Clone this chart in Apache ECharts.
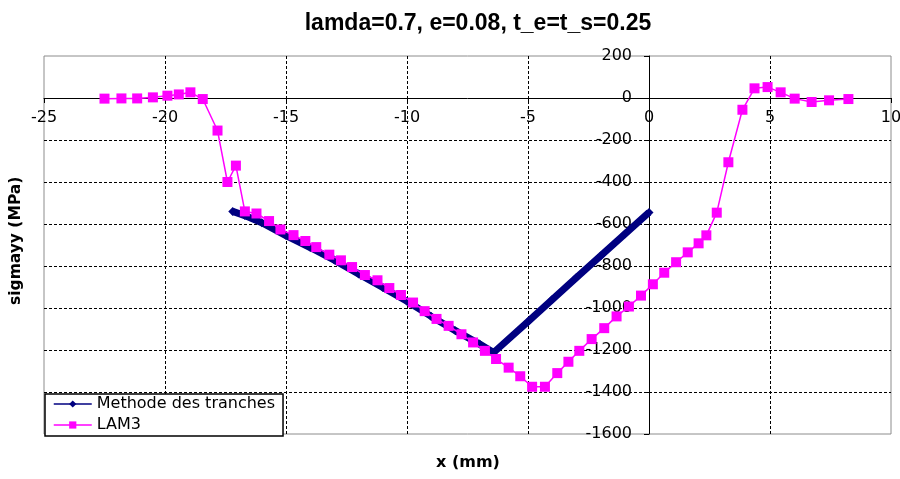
<!DOCTYPE html>
<html>
<head>
<meta charset="utf-8">
<script src="https://cdn.jsdelivr.net/npm/echarts@6/dist/echarts.min.js"></script>
<style>
  html, body { margin: 0; padding: 0; background: #fff; }
  #chart { width: 900px; height: 479px; }
</style>
</head>
<body>
<div id="chart"></div>
<script>
// Stress profile sigma_yy along x: slice method vs LAM3 finite-element result
const chartTitle = 'lamda=0.7, e=0.08, t_e=t_s=0.25';
const xAxisName = 'x (mm)';
const yAxisName = 'sigmayy (MPa)';
const seriesNames = ['Methode des tranches', 'LAM3'];

// Methode des tranches (mm, MPa)
const trancheX = [-17.2, -16.7, -16, -15, -14, -13, -12, -11, -10, -9, -8, -7, -6.42,
                  -5, -4, -3, -2, -1, 0];
const trancheY = [-540, -560, -594, -655, -712, -772, -838, -902, -968, -1040, -1108, -1172, -1212,
                  -1065, -960, -855, -752, -648, -545];

// LAM3 (mm, MPa)
const lamX = [-22.5, -21.8, -21.15, -20.5, -19.9, -19.43, -18.95, -18.44, -17.83, -17.42, -17.07,
              -16.7, -16.22, -15.7, -15.23, -14.69, -14.2, -13.75, -13.21, -12.73, -12.27, -11.74,
              -11.22, -10.73, -10.25, -9.75, -9.27, -8.78, -8.28, -7.75, -7.27, -6.78, -6.32,
              -5.8, -5.32, -4.83, -4.3, -3.79, -3.33, -2.88, -2.37, -1.85, -1.34, -0.83, -0.33,
              0.16, 0.63, 1.12, 1.6, 2.05, 2.37, 2.8, 3.28, 3.86, 4.36, 4.9, 5.44, 6.02, 6.72,
              7.44, 8.24];
const lamY = [-3, -2, -2, 3, 11, 17, 27, -5, -155, -400, -322,
              -540, -550, -586, -626, -653, -681, -710, -746, -773, -805, -843,
              -868, -905, -938, -974, -1015, -1052, -1085, -1125, -1164, -1204, -1243,
              -1284, -1325, -1375, -1375, -1310, -1256, -1204, -1148, -1096, -1040, -993, -941,
              -887, -832, -782, -735, -692, -654, -546, -306, -56, 46, 52, 27, -3, -19,
              -11, -5];

// Axis ranges
const xMin = -25, xMax = 10, xStep = 5;
const yMin = -1600, yMax = 200, yStep = 200;

// Plot box (sized so the origin falls on whole pixels)
const W = 900, H = 479;
const gridBox = { left: 44, right: 9, top: 56, bottom: 45 };
const plotW = W - gridBox.left - gridBox.right;
const plotH = H - gridBox.top - gridBox.bottom;

// Axes cross at the origin: shift each axis line from its edge to zero of the other axis
const xAxisShift = -((0 - yMin) / (yMax - yMin)) * plotH;
const yAxisShift = -((0 - xMin) / (xMax - xMin)) * plotW;

const pairs = (xs, ys) => xs.map((x, i) => [x, ys[i]]);

const tickFont = { fontFamily: 'DejaVu Sans', fontSize: 16, color: '#000',
                   formatter: v => String(v) };
const gridLine = { show: true, showMinLine: false, showMaxLine: false,
                   lineStyle: { color: '#000', type: [3, 2], width: 1 } };

const chart = echarts.init(document.getElementById('chart'), null, { renderer: 'canvas' });

chart.setOption({
  animation: false,
  backgroundColor: '#fff',
  title: {
    text: chartTitle,
    left: 473, top: 7, textAlign: 'center',
    textStyle: { fontFamily: 'Liberation Sans', fontWeight: 'bold', fontSize: 23, color: '#000' }
  },
  grid: Object.assign({
    show: true, borderColor: '#8c8c8c', borderWidth: 1, backgroundColor: 'transparent',
    containLabel: false, outerBoundsMode: 'none'
  }, gridBox),
  legend: {
    orient: 'vertical',
    left: 45, top: 394,
    data: seriesNames,
    backgroundColor: '#fff',
    borderColor: '#000', borderWidth: 1.5, borderRadius: 0,
    padding: [2, 8, 3, 8],
    itemWidth: 38, itemHeight: 9, itemGap: 5,
    lineStyle: { width: 1.5 },
    textStyle: { fontFamily: 'DejaVu Sans', fontSize: 16, color: '#000' }
  },
  xAxis: {
    type: 'value', position: 'bottom', offset: xAxisShift,
    min: xMin, max: xMax, interval: xStep,
    axisLine: { show: true, onZero: false, lineStyle: { color: '#000', width: 1 } },
    axisTick: { show: true, inside: false, length: 5, lineStyle: { color: '#000' } },
    axisLabel: Object.assign({ margin: 12 }, tickFont),
    splitLine: gridLine
  },
  yAxis: {
    type: 'value', position: 'left', offset: yAxisShift,
    min: yMin, max: yMax, interval: yStep,
    axisLine: { show: true, onZero: false, lineStyle: { color: '#000', width: 1 } },
    axisTick: { show: true, inside: false, length: 5, lineStyle: { color: '#000' } },
    axisLabel: Object.assign({ margin: 17 }, tickFont),
    splitLine: gridLine
  },
  graphic: [
    {
      type: 'text', left: 436, top: 455,
      style: { text: xAxisName, fill: '#000', font: 'bold 16px "DejaVu Sans"' }
    },
    {
      type: 'text', rotation: Math.PI / 2, x: 8, y: 305,
      style: { text: yAxisName, fill: '#000', font: 'bold 15.5px "DejaVu Sans"' }
    }
  ],
  series: [
    {
      name: seriesNames[0],
      type: 'line',
      data: pairs(trancheX, trancheY),
      symbol: 'diamond', symbolSize: 9,
      lineStyle: { color: '#000080', width: 7 },
      itemStyle: { color: '#000080' },
      z: 2
    },
    {
      name: seriesNames[1],
      type: 'line',
      data: pairs(lamX, lamY),
      symbol: 'rect', symbolSize: 10,
      lineStyle: { color: '#ff00ff', width: 1.5 },
      itemStyle: { color: '#ff00ff' },
      z: 3
    }
  ]
});
</script>
</body>
</html>
